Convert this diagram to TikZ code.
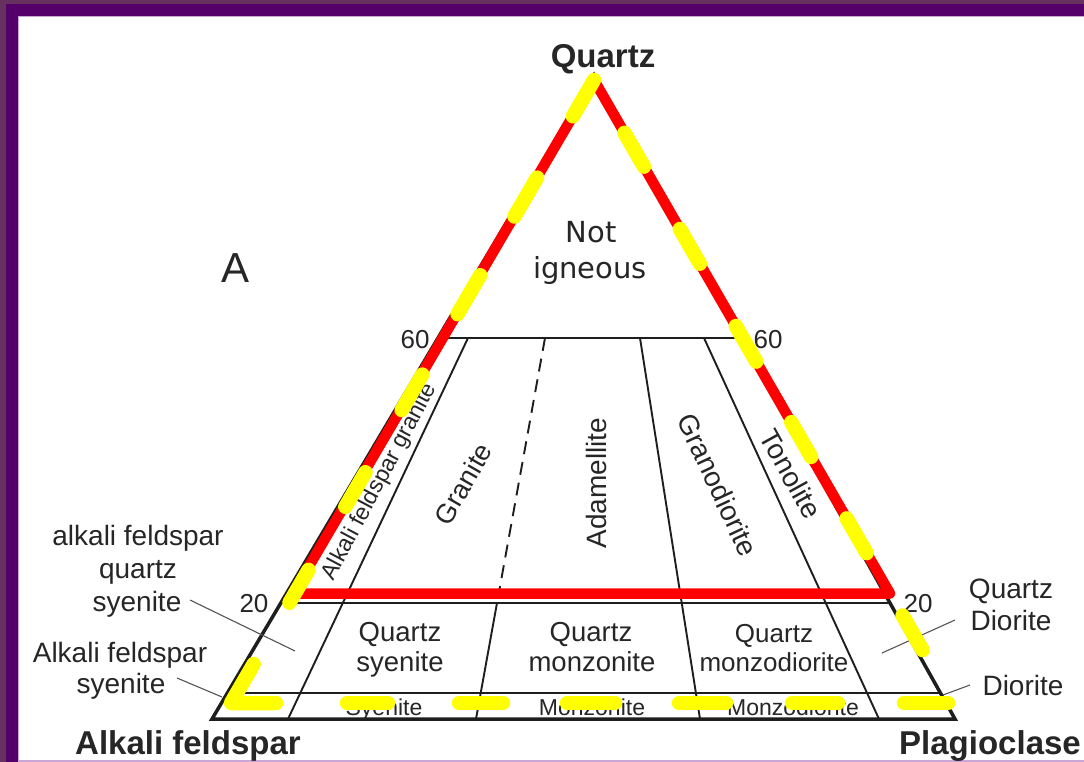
\documentclass[tikz,border=0pt]{standalone}
\usepackage{fontspec}
\setmainfont{Liberation Sans}
\newfontfamily\dejavu{DejaVu Sans}
\usetikzlibrary{calc}
\definecolor{outerpurple}{HTML}{66305F}
\definecolor{deeppurple}{HTML}{55006A}
\definecolor{lav}{HTML}{C9A6D6}
\definecolor{ink}{HTML}{262626}
\definecolor{lineink}{HTML}{1E1E1E}
\definecolor{leadgray}{HTML}{555555}
\definecolor{hlred}{HTML}{FF0000}
\definecolor{hlyellow}{HTML}{FFFF00}
\tikzset{
  txt/.style={text=ink, inner sep=0pt, anchor=base},
  boldlbl/.style={txt, font=\fontsize{33}{36}\selectfont\bfseries},
  sidelbl/.style={txt, font=\fontsize{28}{30}\selectfont},
  inlbl/.style={txt, font=\fontsize{27.5}{30}\selectfont},
  smalllbl/.style={txt, font=\fontsize{23}{25}\selectfont},
  numlbl/.style={txt, font=\fontsize{26}{28}\selectfont},
  nilbl/.style={txt, font=\dejavu\fontsize{29}{31}\selectfont},
  rotlbl/.style={text=ink, inner sep=0pt, anchor=center, font=\fontsize{28}{30}\selectfont},
  outerline/.style={draw=lineink, line width=3.5pt, line join=miter},
  innerline/.style={draw=lineink, line width=2.2pt},
  fieldline/.style={draw=lineink, line width=1.9pt},
  dashfield/.style={draw=lineink, line width=1.9pt, dash pattern=on 13pt off 8pt},
  leader/.style={draw=leadgray, line width=1.1pt},
  redline/.style={draw=hlred, line width=10.5pt, line join=round},
  ydash/.style={draw=hlyellow, line width=14.5pt, line cap=round, line join=round},
}
\begin{document}
\begin{tikzpicture}[x=1pt,y=-1pt]
\useasboundingbox (0,0) rectangle (1084,762);
% frame
\fill[outerpurple] (0,0) rectangle (1084,762);
\fill[deeppurple] (6,4) rectangle (1084,762);
\fill[lav] (18,16) rectangle (1084,762);
\fill[white] (19,17) rectangle (1084,760);

% triangle geometry
\coordinate (Q) at (594,75);
\coordinate (AF) at (212,719);
\coordinate (PL) at (955,719);
\coordinate (L60) at ($(AF)!0.5916!(Q)$);
\coordinate (R60) at ($(PL)!0.5916!(Q)$);
\coordinate (L20) at ($(AF)!0.1801!(Q)$);
\coordinate (R20) at ($(PL)!0.1801!(Q)$);
\coordinate (Lb) at ($(AF)!0.0404!(Q)$);
\coordinate (Rb) at ($(PL)!0.0404!(Q)$);

\draw[innerline] (L60) -- (R60);
\draw[innerline] (L20) -- (R20);
\draw[innerline] (Lb) -- (Rb);

\coordinate (b1t) at (468,338); \coordinate (b1b) at (288,719);
\coordinate (b2t) at (545,338); \coordinate (b2m) at (497,603); \coordinate (b2b) at (476,719);
\coordinate (b3t) at (640,338); \coordinate (b3b) at (700,719);
\coordinate (b4t) at (704,338); \coordinate (b4b) at (879,719);
\draw[fieldline] (b1t) -- (b1b);
\draw[dashfield] (b2t) -- (b2m);
\draw[fieldline] (b2m) -- (b2b);
\draw[fieldline] (b3t) -- (b3b);
\draw[fieldline] (b4t) -- (b4b);

\draw[outerline] (Q) -- (AF) -- (PL) -- cycle;

% leaders
\coordinate (ld1a) at (190,600); \coordinate (ld1b) at (295,651);
\coordinate (ld2a) at (177,678); \coordinate (ld2b) at (222,697);
\coordinate (ld3a) at (955,620); \coordinate (ld3b) at (882,653);
\coordinate (ld4a) at (970,685); \coordinate (ld4b) at (943,695);
\draw[leader] (ld1a) -- (ld1b);
\draw[leader] (ld2a) -- (ld2b);
\draw[leader] (ld3a) -- (ld3b);
\draw[leader] (ld4a) -- (ld4b);

% labels
\node[boldlbl] (quartz) at (603,68) {Quartz};
\node[boldlbl] (alkfs) at (188,754) {Alkali feldspar};
\node[boldlbl] (plag) at (990,754) {Plagioclase};
\node[txt, font=\fontsize{42}{44}\selectfont] (panelA) at (236,282) {A};
\node[nilbl] (not) at (591,242) {Not};
\node[nilbl] (ign) at (590,278) {igneous};
\node[numlbl] (l60) at (415,348) {60};
\node[numlbl] (r60) at (768,348) {60};
\node[numlbl] (l20) at (254,612) {20};
\node[numlbl] (r20) at (918,612) {20};

\node[sidelbl] (afqs1) at (138,545) {alkali feldspar};
\node[sidelbl] (afqs2) at (138,578) {quartz};
\node[sidelbl] (afqs3) at (137,611) {syenite};
\node[sidelbl] (afs1) at (120,662) {Alkali feldspar};
\node[sidelbl] (afs2) at (121,693) {syenite};
\node[sidelbl] (qd1) at (1011,598) {Quartz};
\node[sidelbl] (qd2) at (1011,630) {Diorite};
\node[sidelbl] (dio) at (1023,695) {Diorite};

\node[inlbl] (qs1) at (400,641) {Quartz};
\node[inlbl] (qs2) at (400,671) {syenite};
\node[inlbl] (qm1) at (591,641) {Quartz};
\node[inlbl] (qm2) at (592,671) {monzonite};
\node[txt, font=\fontsize{26}{28}\selectfont] (qmd1) at (774,642) {Quartz};
\node[txt, font=\fontsize{26}{28}\selectfont] (qmd2) at (774,671) {monzodiorite};

\node[smalllbl] (sy) at (384,715) {Syenite};
\node[smalllbl] (mz) at (592,715) {Monzonite};
\node[smalllbl] (mzd) at (793,715) {Monzodiorite};

\node[rotlbl, font=\fontsize{23}{25}\selectfont, rotate=62] (afg) at (380,482) {Alkali feldspar granite};
\node[rotlbl, font=\fontsize{27}{29}\selectfont, rotate=60] (gran) at (463,484) {Granite};
\node[rotlbl, rotate=90] (adam) at (596,483) {Adamellite};
\node[rotlbl, rotate=-65] (grd) at (718,485) {Granodiorite};
\node[rotlbl, rotate=-61] (ton) at (791,474) {Tonolite};

% red highlight
\coordinate (R1) at (300,593.5);
\coordinate (R2) at (890,593.5);
\coordinate (R3) at (594,80);
\coordinate (R4) at (288,602);
\draw[redline] (R1) -- (R2) -- (R3) -- (R4);

% yellow dashed highlight
\coordinate (Y1) at (594,80);
\coordinate (Y2) at (231,703);
\coordinate (Y3) at (953,703);
\foreach \a/\b in {0/42, 113/158, 226/271, 341/382, 454/494, 567/605}
  \draw[ydash] ($(Y1)!\a pt!(Y2)$) -- ($(Y1)!\b pt!(Y2)$);
\draw[ydash] ($(Y1)!676pt!(Y2)$) -- (Y2) -- ($(Y2)!45pt!(Y3)$);
\foreach \a/\b in {347/388, 459/503, 567/615, 679/726, 792/838, 904/948}
  \draw[ydash] (\a,703) -- (\b,703);
\foreach \a/\b in {61/100, 172/212, 284/325, 395/435, 506/546, 618/658}
  \draw[ydash] ($(Y1)!\a pt!(Y3)$) -- ($(Y1)!\b pt!(Y3)$);
\end{tikzpicture}
\end{document}
